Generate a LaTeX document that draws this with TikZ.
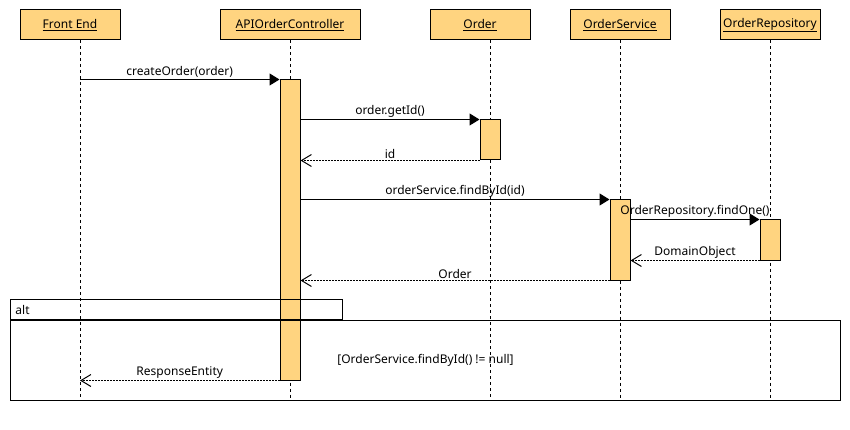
\documentclass[tikz,border=0pt]{standalone}
\usepackage{fontspec}
\setmainfont{Noto Sans}
\usetikzlibrary{arrows.meta}
\definecolor{boxfill}{HTML}{FFD480}

\begin{document}
\begin{tikzpicture}[x=1pt, y=-1pt, line width=1pt, font=\fontsize{12}{14}\selectfont,
    head/.style={draw, fill=boxfill, minimum width=100pt, minimum height=30pt, inner sep=0pt},
    act/.style={draw, fill=boxfill, minimum width=20pt, inner sep=0pt},
    life/.style={dash pattern=on 3pt off 3pt},
    call/.style={-{Triangle[length=10pt,width=12pt]}},
    reply/.style={-{Straight Barb[length=10pt,width=12pt]}, dash pattern=on 2pt off 1pt},
    msg/.style={above, inner sep=1.5pt}]
    \useasboundingbox (0,0) rectangle (850,430);

    \node[head] (fe) at (70,25) {\underline{Front End}};
    \node[head, minimum width=140pt] (ctrl) at (290,25) {\underline{APIOrderController}};
    \node[head] (ord) at (480,25) {\underline{Order}};
    \node[head] (svc) at (620,25) {\underline{OrderService}};
    \node[head] (repo) at (770,25) {\underline{OrderRepository}};

    \coordinate (feline) at (80,40);
    \coordinate (ordline) at (490,40);
    \foreach \l in {feline, ctrl.south, ordline, svc.south, repo.south}
        \draw[life] (\l) -- ++(0,358);

    \node[act, minimum height=300pt] (ctrlact) at (290,230) {};
    \node[act, minimum height=40pt] (ordact) at (490,140) {};
    \node[act, minimum height=80pt] (svcact) at (620,240) {};
    \node[act, minimum height=40pt] (repoact) at (770,240) {};

    \draw[call] (feline |- ctrlact.north) -- node[msg] {createOrder(order)} (ctrlact.north west);
    \draw[call] (ctrlact.east |- ordact.north) -- node[msg] {order.getId()} (ordact.north west);
    \draw[reply] (ordact.south west) -- node[msg] {id} (ctrlact.east |- ordact.south);
    \draw[call] (ctrlact.east |- svcact.north) -- node[msg] {orderService.findById(id)} (svcact.north west);
    \draw[call] (svcact.east |- repoact.north) -- node[msg] {OrderRepository.findOne()} (repoact.north west);
    \draw[reply] (repoact.south west) -- node[msg] {DomainObject} (svcact.east |- repoact.south);
    \draw[reply] (svcact.south west) -- node[msg] {Order} (ctrlact.east |- svcact.south);
    \draw[reply] (ctrlact.south west) -- node[msg] {ResponseEntity} (feline |- ctrlact.south);

    \node[draw, minimum width=830pt, minimum height=80pt, anchor=north west, inner sep=0pt] (alt) at (10,320) {};
    \node[draw, minimum width=332pt, minimum height=20pt, anchor=south west, inner sep=0pt] (althead) at (alt.north west) {};
    \node[anchor=west, inner sep=0pt] (altname) at ([xshift=5pt]althead.west) {alt};
    \node (altcond) at (alt.center) {[OrderService.findById() != null]};
\end{tikzpicture}
\end{document}
